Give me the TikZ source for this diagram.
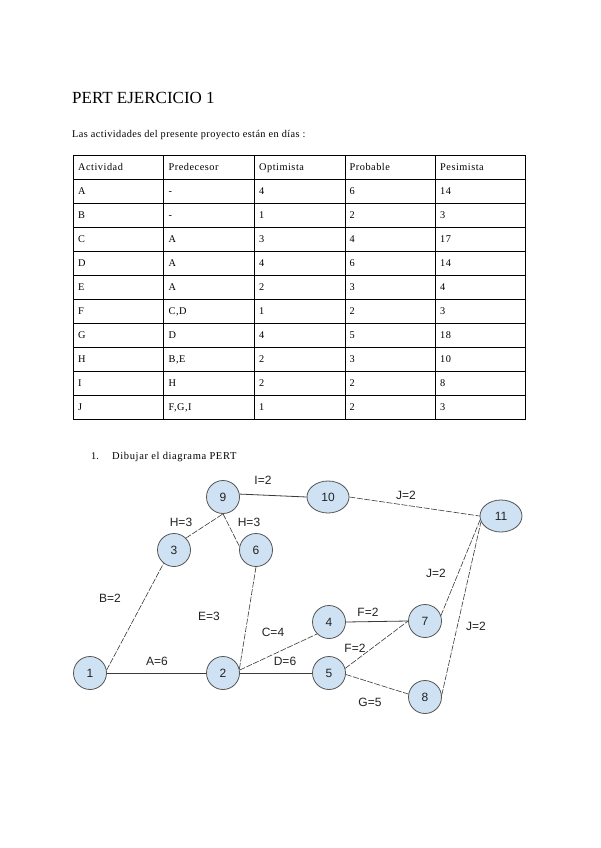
\documentclass[tikz,border=0pt]{standalone}
\usepackage{fontspec}
\setmainfont{Liberation Serif}
\setsansfont{Liberation Sans}
\usetikzlibrary{shapes.geometric}
\definecolor{nodefill}{HTML}{CFE2F3}
\definecolor{nodeline}{HTML}{555555}
\definecolor{edgecol}{HTML}{3A3A3A}
\definecolor{labcol}{HTML}{222222}
\tikzset{
  pnode/.style={circle,draw=nodeline,fill=nodefill,line width=0.8pt,minimum size=33pt,inner sep=0pt,font=\sffamily\fontsize{12}{14}\selectfont,text=labcol},
  pell/.style={ellipse,draw=nodeline,fill=nodefill,line width=0.8pt,minimum width=42pt,minimum height=32pt,inner sep=0pt,font=\sffamily\fontsize{12}{14}\selectfont,text=labcol},
  solidedge/.style={draw=edgecol,line width=0.8pt},
  dashedge/.style={draw=edgecol,line width=0.6pt,dash pattern=on 6pt off 1.5pt},
  elabel/.style={font=\sffamily\fontsize{12}{14}\selectfont,text=labcol,inner sep=0pt},
  celltext/.style={anchor=base west,inner sep=0pt,font=\fontsize{10.3}{12}\selectfont\addfontfeatures{LetterSpace=5}},
  tline/.style={line width=1pt,draw=black}
}
\begin{document}
\begin{tikzpicture}[x=1pt,y=-1pt]
\useasboundingbox[fill=white] (0,0) rectangle (600,848);
% title and intro
\node[anchor=base west,inner sep=0pt,font=\fontsize{17}{20}\selectfont] (title) at (72,104) {PERT EJERCICIO 1};
\node[anchor=base west,inner sep=0pt,font=\fontsize{10.3}{12}\selectfont\addfontfeatures{LetterSpace=4}] (intro) at (72,137) {Las actividades del presente proyecto están en días :};
% table grid
\foreach \yy in {155,179,...,419} \draw[tline] (73.3,\yy) -- (525.7,\yy);
\foreach \xx in {73.3,163.7,254.3,345,435.7,525.7} \draw[tline] (\xx,155) -- (\xx,419);
% table contents
\foreach \r/\a/\b/\c/\d/\e in {0/Actividad/Predecesor/Optimista/Probable/Pesimista,
  1/A/-/4/6/14, 2/B/-/1/2/3, 3/C/A/3/4/17, 4/D/A/4/6/14, 5/E/A/2/3/4,
  6/F/{C,D}/1/2/3, 7/G/D/4/5/18, 8/H/{B,E}/2/3/10, 9/I/H/2/2/8, 10/J/{F,G,I}/1/2/3}{
  \pgfmathsetmacro{\yb}{155+24*\r+15}
  \node[celltext] (c\r a) at (78,\yb) {\a};
  \node[celltext] (c\r b) at (168.5,\yb) {\b};
  \node[celltext] (c\r c) at (259,\yb) {\c};
  \node[celltext] (c\r d) at (349.5,\yb) {\d};
  \node[celltext] (c\r e) at (440,\yb) {\e};
}
% heading of the exercise
\node[anchor=base west,inner sep=0pt,font=\fontsize{10.3}{12}\selectfont] (num) at (91,459) {1.};
\node[anchor=base west,inner sep=0pt,font=\fontsize{10.5}{12}\selectfont\addfontfeatures{LetterSpace=6}] (task) at (112,459) {Dibujar el diagrama PERT};
% nodes
\node[pnode] (n1) at (90,673) {1};
\node[pnode] (n2) at (223,673) {2};
\node[pnode] (n3) at (174,550) {3};
\node[pnode] (n4) at (329,622) {4};
\node[pnode] (n5) at (329,673) {5};
\node[pnode] (n6) at (256,550) {6};
\node[pnode] (n7) at (425,621) {7};
\node[pnode] (n8) at (425,697) {8};
\node[pnode] (n9) at (223,497) {9};
\node[pell] (n10) at (328,497) {10};
\node[pell] (n11) at (501,516) {11};
% edges
\draw[solidedge] (n1.east) -- (n2.west);
\draw[solidedge] (n2.east) -- (n5.west);
\draw[solidedge] (n4.east) -- (n7.west);
\draw[solidedge] (n9.10) -- (n10.west);
\draw[dashedge] (n1.10) -- (n3.232);
\draw[dashedge] (n3.45) -- (n9.south);
\draw[dashedge] (n9.south) -- (n6.168);
\draw[dashedge] (n6.south) -- (n2.14);
\draw[dashedge] (n2.10) -- (n4.225);
\draw[dashedge] (n5.16) -- (n7.west);
\draw[dashedge] (n5.-5) -- (n8.170);
\draw[dashedge] (n10.east) -- (n11.west);
\draw[dashedge] (n7.19) -- (n11.190);
\draw[dashedge] (n8.7) -- (n11.196);
% edge labels
\node[elabel] (lI) at (263,480) {I=2};
\node[elabel] (lH1) at (181,522) {H=3};
\node[elabel] (lH2) at (249,522) {H=3};
\node[elabel] (lJ1) at (406,495) {J=2};
\node[elabel] (lJ2) at (436,573) {J=2};
\node[elabel] (lJ3) at (476,626) {J=2};
\node[elabel] (lF1) at (368,612) {F=2};
\node[elabel] (lF2) at (355,648) {F=2};
\node[elabel] (lB) at (110,598) {B=2};
\node[elabel] (lE) at (209,616) {E=3};
\node[elabel] (lC) at (273,632) {C=4};
\node[elabel] (lA) at (157,661) {A=6};
\node[elabel] (lD) at (285,661) {D=6};
\node[elabel] (lG) at (370,702) {G=5};
\end{tikzpicture}
\end{document}
